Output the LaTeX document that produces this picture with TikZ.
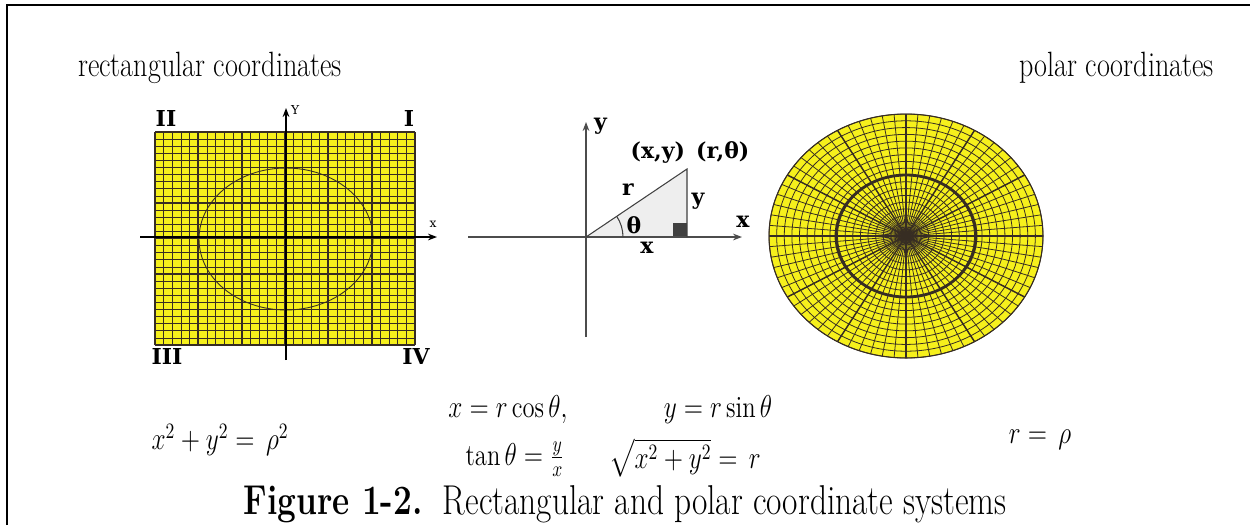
\documentclass[tikz,border=0pt]{standalone}
\usepackage{amsmath}
\usepackage{fontspec}
\newfontfamily\figfont{DejaVu Serif}
\usetikzlibrary{positioning, arrows.meta, calc}

\definecolor{gridyellow}{RGB}{246,240,28}
\definecolor{gridline}{RGB}{55,45,35}
\newcommand{\tallbox}[1]{\scalebox{1}[1.25]{#1}}

\begin{document}
\begin{tikzpicture}[
        x=0.02cm, y=-0.02cm,
        >={Stealth[length=1.8mm]},
        head_text/.style={font=\fontsize{16}{19}\selectfont},
        eq_text/.style={font=\fontsize{14}{17}\selectfont},
        caption_text/.style={font=\fontsize{19}{22}\selectfont},
        quad_label/.style={font=\figfont\bfseries\fontsize{12.5}{14}\selectfont, inner sep=1pt},
        small_label/.style={font=\figfont\fontsize{7}{8}\selectfont, inner sep=1pt},
        tri_label/.style={font=\figfont\bfseries\fontsize{12.5}{14}\selectfont, inner sep=1pt},
        minor/.style={draw=gridline, line width=0.45pt},
        major/.style={draw=gridline, line width=1.1pt},
        rect_axis/.style={draw=black, line width=1.2pt, ->},
        tri_axis/.style={draw=black!70, line width=0.7pt, ->}
        ]
        \useasboundingbox (0,0) rectangle (1250,525);

        % Frame
        \draw[line width=1.2pt] (7,525) -- (7,5) -- (1250,5);

        % Headings
        \node[head_text, anchor=west] (RectHead) at (72,68) {\tallbox{rectangular coordinates}};
        \node[head_text, anchor=east] (PolarHead) at (1220,68) {\tallbox{polar coordinates}};

        % Rectangular grid
        \fill[gridyellow] (155,132) rectangle (415,345);
        \foreach \i in {0,...,30} {
            \draw[minor] ({155+\i*260/30},132) -- ({155+\i*260/30},345);
            \draw[minor] (155,{132+\i*213/30}) -- (415,{132+\i*213/30});
        }
        \foreach \i in {0,...,6} {
            \draw[major] ({155+\i*260/6},132) -- ({155+\i*260/6},345);
            \draw[major] (155,{132+\i*213/6}) -- (415,{132+\i*213/6});
        }
        \draw[draw=gridline, line width=0.5pt] (286,239) ellipse[x radius=1.74cm, y radius=1.42cm];

        \coordinate (RxStart) at (140,237);
        \coordinate (RxEnd) at (437,237);
        \coordinate (RyStart) at (286,360);
        \coordinate (RyEnd) at (286,108);
        \draw[rect_axis] (RxStart) -- (RxEnd);
        \draw[rect_axis] (RyStart) -- (RyEnd);
        \node[small_label, anchor=south] (RxLbl) at (433,230) {x};
        \node[small_label, anchor=west] (RyLbl) at (289,110) {Y};

        \node[quad_label] (QuadII) at (166,118) {II};
        \node[quad_label] (QuadI) at (409,118) {I};
        \node[quad_label] (QuadIII) at (167,356) {III};
        \node[quad_label] (QuadIV) at (416,356) {IV};

        % Triangle
        \coordinate (TO) at (586,237);
        \coordinate (TP) at (687,169);
        \coordinate (TQ) at (687,237);
        \fill[gray!13] (TO) -- (TP) -- (TQ) -- cycle;
        \fill[black!75] (673,223) rectangle (TQ);
        \coordinate (TxStart) at (468,237);
        \coordinate (TxEnd) at (742,237);
        \coordinate (TyStart) at (586,337);
        \coordinate (TyEnd) at (586,122);
        \draw[tri_axis] (TxStart) -- (TxEnd);
        \draw[tri_axis] (TyStart) -- (TyEnd);
        \draw[black!75, line width=0.6pt] (TO) -- (TP) -- (TQ);
        \draw[black!75, line width=0.6pt] ($(TO)+(37,0)$) arc[start angle=0, end angle=34, radius=0.74cm];

        \node[tri_label, anchor=west] (TyLbl) at (592,126) {y};
        \node[tri_label] (PointLbl) at (690,152) {(x,y)\,\ (r,θ)};
        \node[tri_label] (RLbl) at (628,190) {r};
        \node[tri_label] (YLbl) at (698,201) {y};
        \node[tri_label] (ThLbl) at (634,225) {θ};
        \node[tri_label] (XLbl) at (647,248) {x};
        \node[tri_label] (TxLbl) at (743,222) {x};

        % Polar grid
        \coordinate (PolarC) at (906,236);
        \fill[gridyellow] (PolarC) ellipse[x radius=2.74cm, y radius=2.44cm];
        \foreach \a in {0,5,...,355}
            \draw[minor] (PolarC) -- ++({137*cos(\a)},{122*sin(\a)});
        \foreach \k in {1,...,18}
            \draw[minor] (PolarC) ellipse[x radius={\k*2.74cm/18}, y radius={\k*2.44cm/18}];
        \foreach \a in {0,30,...,330}
            \draw[draw=gridline, line width=0.8pt] (PolarC) -- ++({137*cos(\a)},{122*sin(\a)});
        \draw[draw=gridline, line width=1.6pt] (PolarC) ellipse[x radius=1.4cm, y radius=1.22cm];
        \draw[draw=gridline, line width=0.6pt] (PolarC) ellipse[x radius=2.74cm, y radius=2.44cm];

        % Equations
        \node[eq_text] (EqCircle) at (220,440) {\tallbox{$x^2 + y^2 =\, \rho^2$}};
        \node[eq_text] (EqCos) at (508,410) {\tallbox{$x = r\cos\theta,$}};
        \node[eq_text] (EqSin) at (718,410) {\tallbox{$y = r\sin\theta$}};
        \node[eq_text] (EqTan) at (515,459) {\tallbox{$\tan\theta = \frac{y}{x}$}};
        \node[eq_text] (EqSqrt) at (685,458) {\tallbox{$\sqrt{x^2+y^2} =\, r$}};
        \node[eq_text] (EqRho) at (1040,440) {\tallbox{$r =\, \rho$}};

        % Caption
        \node[caption_text] (Caption) at (625,504) {\tallbox{\textbf{Figure 1-2.}\ \ Rectangular and polar coordinate systems}};

    \end{tikzpicture}
\end{document}
